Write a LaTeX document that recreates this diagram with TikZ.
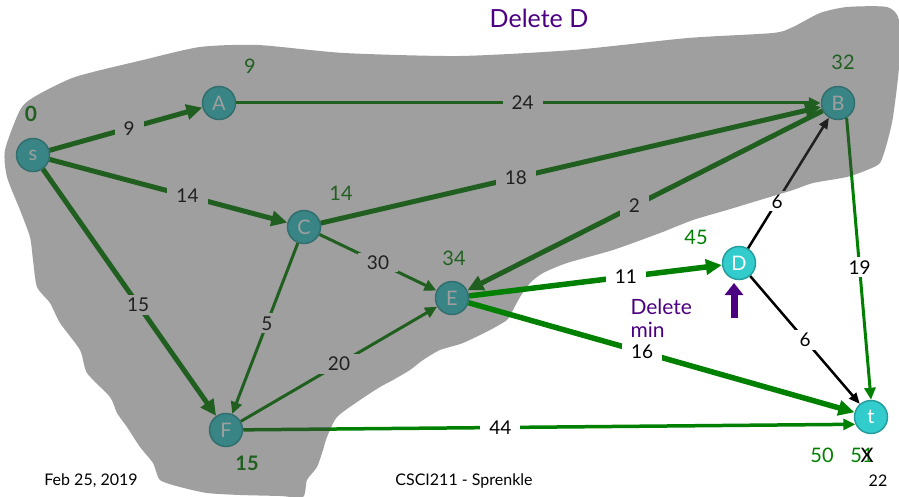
\documentclass[tikz,border=0pt]{standalone}
\usepackage{fontspec}
\setmainfont{Lato}
\usetikzlibrary{arrows.meta}
\definecolor{vtx}{RGB}{51,204,204}
\definecolor{vtxline}{RGB}{36,158,158}
\definecolor{pathgreen}{RGB}{0,128,0}
\definecolor{slidepurple}{RGB}{75,0,130}
\definecolor{regiongray}{RGB}{64,64,64}
\begin{document}
\begin{tikzpicture}[x=1pt, y=-1pt,
    vertex/.style={circle, fill=vtx, draw=vtxline, line width=1.5pt, minimum size=33pt, inner sep=0pt, text=white, font=\fontsize{20}{20}\selectfont},
    wt/.style={fill=white, inner xsep=9pt, inner ysep=3pt, text=black, font=\fontsize{19}{19}\selectfont},
    dist/.style={text=pathgreen, font=\fontsize{20}{20}\selectfont},
    bigedge/.style={draw=pathgreen, line width=5pt, -{Triangle[length=16pt,width=15pt]}},
    smalledge/.style={draw=pathgreen, line width=3pt, -{Triangle[length=12pt,width=11pt]}},
    blackedge/.style={draw=black, line width=2.5pt, -{Triangle[length=11pt,width=9pt]}},
    footer/.style={text=black, font=\fontsize{16}{16}\selectfont}]
    \useasboundingbox (0,0) rectangle (899,497);
    % vertices
    \node[vertex] (s) at (33,155) {s};
    \node[vertex] (A) at (219,103) {A};
    \node[vertex] (B) at (838,103) {B};
    \node[vertex] (C) at (304,227) {C};
    \node[vertex] (E) at (452,298) {E};
    \node[vertex] (D) at (739,263) {D};
    \node[vertex] (F) at (226,430) {F};
    \node[vertex] (t) at (871,417) {t};
    % edges under the shaded region
    \draw[bigedge] (s) -- node[wt, pos=0.52] {9} (A);
    \draw[smalledge] (A) -- node[wt, pos=0.49] {24} (B);
    \draw[bigedge] (s) -- node[wt, pos=0.58] {14} (C);
    \draw[bigedge] (C) -- node[wt, pos=0.39] {18} (B);
    \draw[bigedge] (B) -- node[wt, pos=0.53] {2} (E);
    \draw[bigedge] (s) -- node[wt, pos=0.55] {15} (F);
    \draw[smalledge] (C) -- node[wt, pos=0.5] {30} (E);
    \draw[smalledge] (C) -- node[wt, pos=0.47] {5} (F);
    \draw[smalledge] (F) -- node[wt, pos=0.5] {20} (E);
    \draw[smalledge, line width=3.5pt] (F) -- node[wt, pos=0.42] {44} (t.205);
    \draw[smalledge] (B.-60) -- node[wt, pos=0.53] {19} (t.north);
    \draw[blackedge] (D) -- node[wt, pos=0.36] {6} (B);
    \draw[blackedge] (D) -- node[wt, pos=0.5] {6} (t);
    % distances
    \node[dist, font=\fontsize{21}{21}\selectfont\bfseries] (ds) at (31,114) {0};
    \node[dist] (dA) at (250,66) {9};
    \node[dist] (dB) at (843,62) {32};
    \node[dist] (dC) at (341,193) {14};
    \node[dist] (dE) at (454,258) {34};
    \node[dist, font=\fontsize{20}{20}\selectfont\bfseries] (dF) at (247,463) {15};
    % visited region
    \fill[regiongray, fill opacity=0.5] plot[smooth cycle, tension=0.4] coordinates {
        (5,150) (7,177) (20,210) (30,237) (33,260) (37,287) (50,303) (60,323)
        (80,350) (87,373) (110,397) (117,413) (127,427) (140,447) (153,463)
        (160,480) (180,487) (207,493) (240,495) (280,496) (303,497) (307,480)
        (317,467) (323,450) (327,437) (337,417) (360,400) (380,387) (393,380)
        (410,370) (423,360) (440,350) (463,343) (490,330) (507,320) (513,310)
        (520,297) (530,283) (543,273) (567,263) (613,250) (660,233) (693,220)
        (727,210) (760,200) (793,190) (813,183) (847,177) (867,170) (880,163)
        (887,143) (893,117) (899,67) (899,20) (887,7) (847,7) (820,13) (793,27)
        (773,33) (688,38) (573,50) (459,56) (344,53) (258,45) (200,47) (143,60)
        (75,77) (34,97) (20,110)};
    % edges relaxed from E
    \draw[bigedge, line width=5.5pt] (E) -- node[wt, pos=0.62] {11} (D);
    \draw[bigedge, line width=5.5pt] (E) -- node[wt, pos=0.45] {16} (t);
    % labels outside
    \node[dist] (dD) at (696,237) {45};
    \node[dist] (dt) at (822,455) {50};
    \node[dist] (dtold) at (862,455) {5\rlap{1}\hspace{-1.5pt}{\color{black}X}};
    \node[text=slidepurple, font=\fontsize{25}{25}\selectfont] (title) at (539,18) {Delete D};
    \node[text=slidepurple, anchor=west, align=left, font=\fontsize{21}{23}\selectfont] (delmin) at (627,318) {Delete\\min};
    \coordinate (ptail) at (734,318);
    \coordinate (phead) at (734,283);
    \draw[slidepurple, line width=7pt, -{Triangle[length=12pt,width=18pt]}] (ptail) -- (phead);
    % footer
    \node[footer] (date) at (91,481) {Feb 25, 2019};
    \node[footer] (course) at (464,481) {CSCI211 - Sprenkle};
    \node[footer] (page) at (878,481) {22};
\end{tikzpicture}
\end{document}
